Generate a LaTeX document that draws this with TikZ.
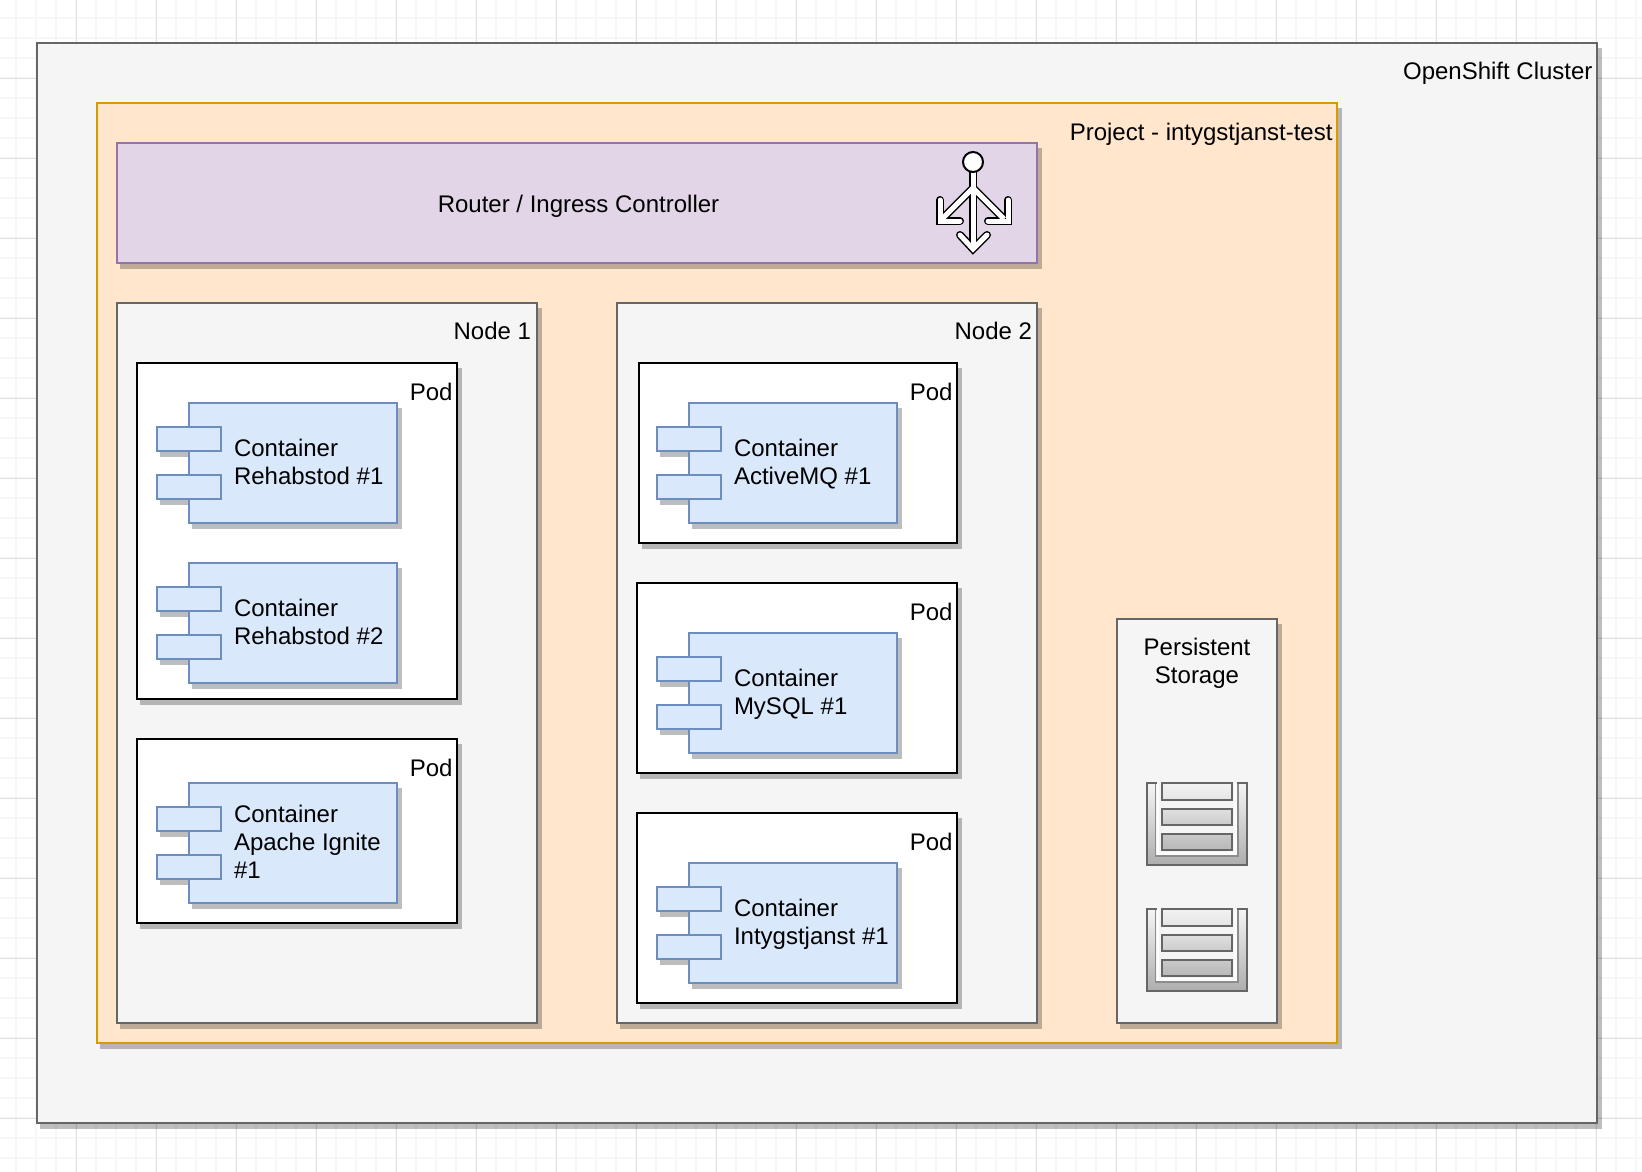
\documentclass[tikz,border=0pt]{standalone}
\usepackage{fontspec}
\setmainfont{Liberation Sans}
\definecolor{grayline}{HTML}{666666}
\definecolor{grayfill}{HTML}{F5F5F5}
\definecolor{orgline}{HTML}{D79B00}
\definecolor{orgfill}{HTML}{FFE6CC}
\definecolor{purline}{HTML}{9673A6}
\definecolor{purfill}{HTML}{E1D5E7}
\definecolor{bluline}{HTML}{6C8EBF}
\definecolor{blufill}{HTML}{DAE8FC}
\tikzset{
  x=1pt,y=-1pt,
  shadowfill/.style={fill=black,opacity=.26},
  boxb/.style={draw=#1,line width=2pt,rectangle,inner sep=0pt,outer sep=0pt,anchor=north west},
  cluster/.style={boxb=grayline,fill=grayfill},
  project/.style={boxb=orgline,fill=orgfill},
  router/.style={boxb=purline,fill=purfill},
  podbox/.style={boxb=black,fill=white},
  comp/.style={boxb=bluline,fill=blufill},
  lbl/.style={font=\fontsize{24}{28}\selectfont,inner sep=0pt,outer sep=0pt},
  txt/.style={lbl,align=left,anchor=north west},
  rlbl/.style={lbl,anchor=base east},
}
\newcommand{\shd}[4]{\fill[shadowfill] (#1+3,#2+5) rectangle (#3+5,#4+6.3);}
\newcommand{\bx}[6]{\shd{#2}{#3}{#4}{#5}\node[#1,minimum width=#4pt-#2pt,minimum height=#5pt-#3pt] (#6) at (#2,#3) {};}
\newcommand{\firstl}{\rule{0pt}{20pt}}
\newcommand{\comp}[5]{% x, y, name, text top offset, text
  \pgfmathsetmacro{\xa}{#1+32}\pgfmathsetmacro{\xb}{#1+240}\pgfmathsetmacro{\yb}{#2+120}
  \pgfmathsetmacro{\pa}{#2+24}\pgfmathsetmacro{\pb}{#2+48}\pgfmathsetmacro{\pc}{#2+72}\pgfmathsetmacro{\pd}{#2+96}
  \pgfmathsetmacro{\pr}{#1+64}\pgfmathsetmacro{\tx}{#1+77}\pgfmathsetmacro{\ty}{#2+#4}
  \shd{#1}{\pa}{\pr}{\pb}
  \shd{#1}{\pc}{\pr}{\pd}
  \bx{comp}{\xa}{#2}{\xb}{\yb}{#3}
  \node[comp,minimum width=64pt,minimum height=24pt] (#3a) at (#1,\pa) {};
  \node[comp,minimum width=64pt,minimum height=24pt] (#3b) at (#1,\pc) {};
  \node[txt] (#3t) at (\tx,\ty) {\firstl #5};
}
\newcommand{\tray}[2]{% x,y
  \begin{scope}[shift={(#1,#2)}]
  \shade[top color=white!96!black,bottom color=black!32]
    (0,0) -- (0,82) -- (100,82) -- (100,0) -- (91,0) -- (91,73) -- (8.5,73) -- (8.5,0) -- cycle;
  \draw[white!70!grayfill,line width=2.5pt] (10.8,1) -- (10.8,70.7) -- (88.7,70.7) -- (88.7,1);
  \draw[black!45,line width=1.6pt] (8.5,-1) -- (8.5,73) -- (91,73) -- (91,-1);
  \draw[grayline,line width=2pt,line cap=rect] (8.5,0) -- (0,0) -- (0,82) -- (100,82) -- (100,0) -- (91,0);
  \shade[top color=white!95!black,bottom color=white!90!black,draw=grayline,line width=2pt] (15,0) rectangle (85,16.5);
  \shade[top color=white!88!black,bottom color=white!80!black,draw=grayline,line width=2pt] (15,25.5) rectangle (85,41.5);
  \shade[top color=white!79!black,bottom color=white!72!black,draw=grayline,line width=2pt] (15,50.5) rectangle (85,67);
  \end{scope}
}
\begin{document}
\begin{tikzpicture}
\useasboundingbox (0,0) rectangle (1642,1172);
% grid
\foreach \g in {16,36,...,1642} \draw[black!3,line width=1.2pt] (\g,0) -- (\g,1172);
\foreach \g in {18,38,...,1172} \draw[black!3,line width=1.2pt] (0,\g) -- (1642,\g);
\foreach \g in {76,156,...,1642} \draw[black!12,line width=.8pt] (\g,0) -- (\g,1172);
\foreach \g in {78,158,...,1172} \draw[black!12,line width=.8pt] (0,\g) -- (1642,\g);
\bx{cluster}{37}{43}{1597}{1123}{cl}
\bx{project}{97}{103}{1337}{1043}{pr}
\bx{router}{117}{143}{1037}{263}{ro}
\bx{cluster}{117}{303}{537}{1023}{n1}
\bx{cluster}{617}{303}{1037}{1023}{n2}
\bx{cluster}{1117}{619}{1277}{1023}{ps}
\bx{podbox}{137}{363}{457}{698.5}{p1}
\bx{podbox}{137}{739}{457}{923}{p2}
\bx{podbox}{639}{363}{957}{543}{p3}
\bx{podbox}{637}{583}{957}{773}{p4}
\bx{podbox}{637}{813}{957}{1003}{p5}
\comp{157}{403}{c1}{33.2}{Container\\Rehabstod \#1}
\comp{157}{563}{c2}{33.2}{Container\\Rehabstod \#2}
\comp{157}{783}{c3}{19.2}{Container\\Apache Ignite\\\#1}
\comp{657}{403}{c4}{33.2}{Container\\ActiveMQ \#1}
\comp{657}{633}{c5}{33.2}{Container\\MySQL \#1}
\comp{657}{863}{c6}{33.2}{Container\\Intygstjanst \#1}
\node[rlbl] (tcl) at (1592.5,80) {OpenShift Cluster};
\node[rlbl] (tpr) at (1332.5,140) {Project - intygstjanst-test};
\node[lbl,anchor=base] (tro) at (578.5,212) {Router / Ingress Controller};
\node[rlbl] (tn1) at (531,339.5) {Node 1};
\node[rlbl] (tn2) at (1032,339.5) {Node 2};
\node[rlbl] (tp1) at (452.5,400) {Pod};
\node[rlbl] (tp2) at (452.5,776) {Pod};
\node[rlbl] (tp3) at (952.5,400) {Pod};
\node[rlbl] (tp4) at (952.5,620) {Pod};
\node[rlbl] (tp5) at (952.5,850) {Pod};
\node[lbl,align=center,anchor=north] (tps) at (1197,635.5) {\firstl Persistent\\Storage};
% router icon
\begin{scope}[line cap=round,line join=miter]
\foreach \w/\c in {8pt/black,5pt/white}{
  \draw[\c,line width=\w,line cap=butt] (973,172) -- (973,249);
  \draw[\c,line width=\w,line cap=butt] (973,188) -- (942,219);
  \draw[\c,line width=\w,line cap=butt] (973,188) -- (1004,219);
  \draw[\c,line width=\w] (960,235) -- (973,249) -- (987,235);
  \draw[\c,line width=\w] (940,200) -- (940,221) -- (960,221);
  \draw[\c,line width=\w] (1008,200) -- (1008,221) -- (988,221);
}
\node[circle,draw=black,fill=white,line width=2pt,minimum size=20pt,inner sep=0pt] (ic) at (973,162) {};
\end{scope}
\tray{1147}{783}
\tray{1147}{909}
\end{tikzpicture}
\end{document}
